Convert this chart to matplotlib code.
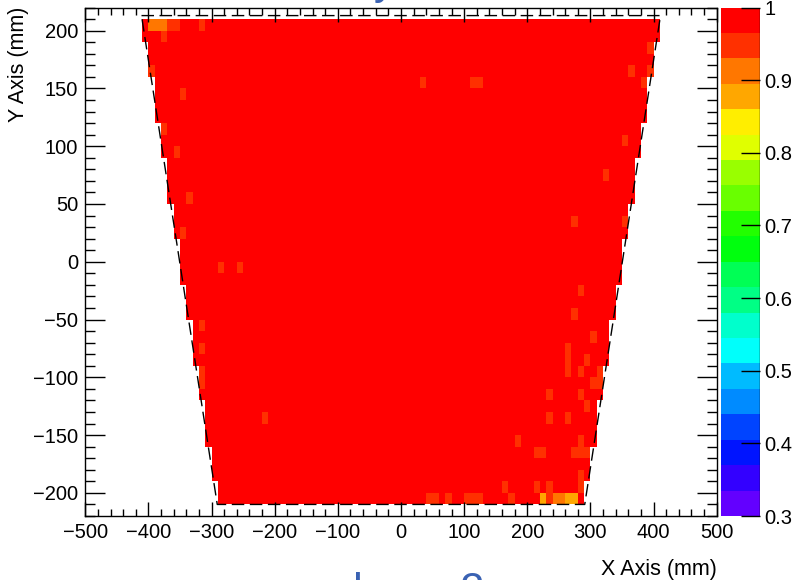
import numpy as np
import matplotlib
matplotlib.use("Agg")
import matplotlib.pyplot as plt
from matplotlib.colors import ListedColormap, BoundaryNorm
from matplotlib.ticker import MultipleLocator

plt.rcParams["font.family"] = ["Liberation Sans", "DejaVu Sans"]

# --- binning of the efficiency map (mm) ---
X_MIN, X_MAX, BIN_X = -410, 410, 10
Y_MIN, Y_MAX, BIN_Y = -210, 210, 10

# half width of the filled region per row, bottom row first (mm)
ROW_HALF_WIDTH = [290, 290, 300, 300, 300, 310, 310, 310, 310, 320,
                  320, 320, 330, 330, 330, 330, 340, 340, 340, 350,
                  350, 350, 350, 360, 360, 360, 370, 370, 370, 370,
                  380, 380, 380, 390, 390, 390, 390, 400, 400, 400,
                  410, 410]
BULK_EFF = 0.99

# bins below the bulk efficiency: bin centre x, y (mm) and efficiency
LOW_X = [-395, -385, -375, -365, -355, -315,
         -375,
         395,
         -395, 365, 395,
         35, 115, 125, 385,
         -345, -375, 355, -355, 325, -335,
         275, 355, -345,
         -285, -255,
         285, 275, -315, 305,
         -315, 265, 265, 295,
         -315, 265, 285, 315,
         -315, 305, 315,
         235, 285, 295,
         -215, 235, 265,
         185, 285,
         215, 225, 275, 285, 295,
         285,
         165, 215, 235, 285,
         45, 55, 75, 105, 115, 125, 175, 225, 235, 245, 255, 265, 275]
LOW_Y = [205, 205, 205, 205, 205, 205,
         195,
         185,
         165, 165, 165,
         155, 155, 155, 155,
         145, 115, 105, 95, 75, 55,
         35, 35, 25,
         -5, -5,
         -25, -45, -55, -65,
         -75, -75, -85, -85,
         -95, -95, -95, -95,
         -105, -105, -105,
         -115, -115, -125,
         -135, -135, -135,
         -155, -155,
         -165, -165, -165, -165, -165,
         -185,
         -195, -195, -195, -195,
         -205, -205, -205, -205, -205, -205, -205, -205, -205, -205, -205, -205, -205]
LOW_EFF = [0.91, 0.91, 0.91, 0.95, 0.95, 0.95,
           0.94,
           0.95,
           0.95, 0.95, 0.95,
           0.95, 0.95, 0.95, 0.95,
           0.95, 0.95, 0.95, 0.95, 0.95, 0.95,
           0.95, 0.95, 0.95,
           0.95, 0.95,
           0.95, 0.95, 0.95, 0.95,
           0.95, 0.95, 0.95, 0.95,
           0.95, 0.95, 0.95, 0.95,
           0.93, 0.95, 0.95,
           0.95, 0.95, 0.95,
           0.95, 0.95, 0.95,
           0.95, 0.95,
           0.95, 0.95, 0.95, 0.95, 0.95,
           0.95,
           0.95, 0.95, 0.95, 0.95,
           0.94, 0.94, 0.95, 0.95, 0.95, 0.95, 0.95, 0.88, 0.94, 0.91, 0.91, 0.88, 0.88]

# detector outline (dashed)
OUTLINE_X = [-411, 411, 291, -291, -411]
OUTLINE_Y = [213, 213, -210, -210, 213]

# ROOT "pretty" palette, 20 contours from 0.3 to 1.0 (bottom first)
PALETTE = ["#6300ff", "#3300ff", "#0014ff", "#0044ff", "#008bff",
           "#00bbff", "#00fffb", "#00ffcc", "#00ff85", "#00ff55",
           "#00ff0e", "#22ff00", "#69ff00", "#99ff00", "#e0ff00",
           "#ffee00", "#ffa700", "#ff7700", "#ff3000", "#ff0000"]
Z_MIN, Z_MAX = 0.3, 1.0
CBAR_TICKS = [0.3, 0.4, 0.5, 0.6, 0.7, 0.8, 0.9, 1.0]
CBAR_LABELS = ["0.3", "0.4", "0.5", "0.6", "0.7", "0.8", "0.9", "1"]

# --- build the 2D histogram ---
x_edges = np.arange(X_MIN, X_MAX + BIN_X, BIN_X)
y_edges = np.arange(Y_MIN, Y_MAX + BIN_Y, BIN_Y)
x_cent = 0.5 * (x_edges[:-1] + x_edges[1:])
eff = np.full((len(y_edges) - 1, len(x_edges) - 1), np.nan)
for j, hw in enumerate(ROW_HALF_WIDTH):
    eff[j, np.abs(x_cent) < hw] = BULK_EFF
for x, y, v in zip(LOW_X, LOW_Y, LOW_EFF):
    eff[int((y - Y_MIN) // BIN_Y), int((x - X_MIN) // BIN_X)] = v

cmap = ListedColormap(PALETTE)
norm = BoundaryNorm(np.linspace(Z_MIN, Z_MAX, len(PALETTE) + 1), cmap.N)

W, H = 795, 580
fig = plt.figure(figsize=(W / 100, H / 100), dpi=100)
ax = fig.add_axes([85.3 / W, 64 / H, 631.4 / W, 508.5 / H])
cax = fig.add_axes([721 / W, 64 / H, 39 / W, 508.5 / H])

mesh = ax.pcolormesh(x_edges, y_edges, eff, cmap=cmap, norm=norm,
                     shading="flat", edgecolors="none", antialiased=False)
ax.plot(OUTLINE_X, OUTLINE_Y, color="black", lw=1.0, ls=(0, (9, 4)))

ax.set_xlim(-500, 500)
ax.set_ylim(-220, 220)
ax.xaxis.set_major_locator(MultipleLocator(100))
ax.xaxis.set_minor_locator(MultipleLocator(20))
ax.yaxis.set_major_locator(MultipleLocator(50))
ax.yaxis.set_minor_locator(MultipleLocator(10))
ax.tick_params(which="both", direction="in", top=True, right=True,
               width=1, labelsize=14.5, pad=5)
ax.tick_params(axis="x", which="major", length=10)
ax.tick_params(axis="x", which="minor", length=5)
ax.tick_params(axis="y", which="major", length=14.4)
ax.tick_params(axis="y", which="minor", length=7)
for sp in ax.spines.values():
    sp.set_linewidth(1.0)

# colour scale
cb = fig.colorbar(mesh, cax=cax, ticks=CBAR_TICKS)
cb.outline.set_visible(False)
cax.set_yticklabels(CBAR_LABELS)
cax.minorticks_off()
cax.tick_params(direction="in", length=13.7, width=1, labelsize=14.5,
                pad=3, right=True, left=False)
cax.axvline(1, color="black", lw=1.0)

# axis titles
fig.text(716.7 / W, (H - 575) / H, "X Axis (mm)", ha="right",
         va="baseline", fontsize=15.5)
fig.text(8 / W, 1 - 7 / H, "Y Axis (mm)", rotation=90, ha="left",
         va="top", fontsize=15.5)

# slide text cut off by the crop
fig.text(353 / W, (H - 603.6) / H, "layer 2", ha="left", va="baseline",
         fontsize=31.5, color="#3a62b3")
fig.text(396 / W, (H + 6) / H, "Efficiency", ha="right", va="baseline",
         fontsize=31.5, color="#3a62b3")

fig.savefig("out.png", dpi=100)
